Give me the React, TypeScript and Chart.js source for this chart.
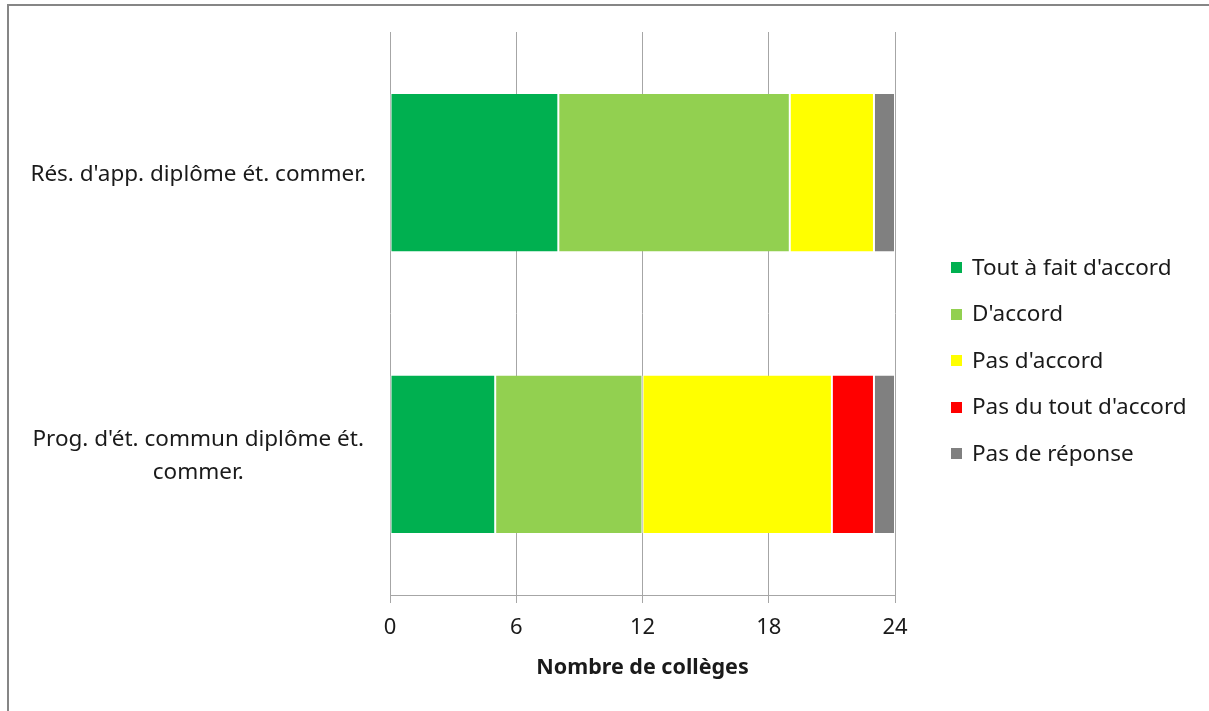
import React, { useEffect, useRef } from 'react';
import { Chart, registerables } from 'chart.js';

Chart.register(...registerables);

const categories: string[][] = [
  ["Rés. d'app. diplôme ét. commer."],
  ["Prog. d'ét. commun diplôme ét.", 'commer.'],
];
const seriesLabels = [
  "Tout à fait d'accord",
  "D'accord",
  "Pas d'accord",
  "Pas du tout d'accord",
  'Pas de réponse',
];
const toutAFaitDAccord = [8, 5];
const dAccord = [11, 7];
const pasDAccord = [4, 9];
const pasDuToutDAccord = [0, 2];
const pasDeReponse = [1, 1];
const xTickValues = [0, 6, 12, 18, 24];
const seriesColors = ['#00B050', '#92D050', '#FFFF00', '#FF0000', '#808080'];

const FONT = '"Noto Sans", Lato, sans-serif';
const FS = 22.5;
const TEXT = '#1a1a1a';
const GRID = '#a6a6a6';

const sideLegend = {
  id: 'sideLegend',
  afterDraw(chart: any) {
    const { ctx, chartArea } = chart;
    const x0 = chartArea.right + 56;
    const step = 46.5;
    const n = chart.data.datasets.length;
    const yc = chart.height / 2 + 2;
    ctx.save();
    ctx.font = `${FS}px ${FONT}`;
    ctx.textBaseline = 'middle';
    ctx.textAlign = 'left';
    chart.data.datasets.forEach((ds: any, i: number) => {
      const y = yc + (i - (n - 1) / 2) * step;
      ctx.fillStyle = ds.backgroundColor;
      ctx.fillRect(x0, Math.round(y - 5.5), 11, 11);
      ctx.fillStyle = TEXT;
      ctx.fillText(ds.label, x0 + 21, y + 1);
    });
    ctx.restore();
  },
};

export default function App() {
  const ref = useRef<HTMLCanvasElement | null>(null);

  useEffect(() => {
    document.body.style.overflow = 'hidden';
    if (!ref.current) return;
    const values = [toutAFaitDAccord, dAccord, pasDAccord, pasDuToutDAccord, pasDeReponse];
    const chart = new Chart(ref.current, {
      type: 'bar',
      data: {
        labels: categories,
        datasets: seriesLabels.map((label, i) => ({
          label,
          data: values[i],
          backgroundColor: seriesColors[i],
          borderColor: '#ffffff',
          borderWidth: { left: 1, right: 1, top: 0, bottom: 0 },
          borderSkipped: false,
          categoryPercentage: 1,
          barPercentage: 0.56,
        })),
      },
      options: {
        indexAxis: 'y',
        responsive: false,
        animation: false,
        layout: { padding: { top: 26, right: 314, bottom: 0, left: 0 } },
        plugins: {
          legend: { display: false },
          tooltip: { enabled: false },
        },
        scales: {
          x: {
            type: 'linear',
            stacked: true,
            min: 0,
            max: 24,
            afterBuildTicks: (scale: any) => {
              scale.ticks = xTickValues.map((v) => ({ value: v }));
            },
            afterFit: (scale: any) => {
              scale.height = 116;
            },
            grid: { color: GRID, lineWidth: 1, drawTicks: true, tickLength: 8, tickColor: GRID },
            border: { display: true, color: GRID, width: 1 },
            ticks: {
              padding: 12,
              color: TEXT,
              font: { family: FONT, size: 22 },
            },
            title: {
              display: true,
              text: 'Nombre de collèges',
              color: TEXT,
              font: { family: FONT, size: 21.5, weight: 'bold' },
              padding: { top: 0, bottom: 30 },
            },
          },
          y: {
            type: 'category',
            stacked: true,
            afterFit: (scale: any) => {
              scale.width = 381;
              scale.paddingTop = 0;
              scale.paddingBottom = 0;
            },
            grid: { display: false, drawTicks: false },
            border: { display: false },
            ticks: {
              padding: 24,
              labelOffset: 2,
              crossAlign: 'center',
              color: TEXT,
              font: { family: FONT, size: FS, lineHeight: 1.48 },
            },
          },
        },
      },
      plugins: [sideLegend],
    });
    return () => chart.destroy();
  }, []);

  return (
    <div
      style={{
        position: 'fixed',
        left: 7,
        top: 4,
        width: 1202,
        height: 707,
        borderLeft: '2px solid #868686',
        borderTop: '2px solid #868686',
        background: '#fff',
        overflow: 'hidden',
      }}
    >
      <canvas ref={ref} width={1200} height={705} style={{ display: 'block' }} />
    </div>
  );
}
